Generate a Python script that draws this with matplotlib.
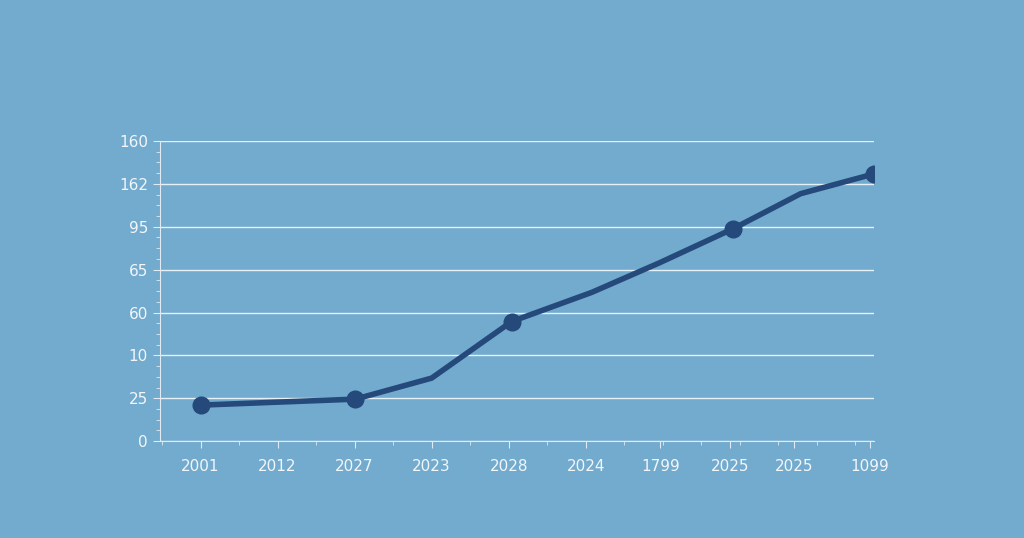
import numpy as np
import matplotlib.pyplot as plt

# positions along x (tick units) and y (tick units)
x_pos = [0, 2.01, 3.0, 4.04, 5.08, 5.96, 6.91, 7.79, 8.74]
y_val = [0.84, 0.98, 1.47, 2.79, 3.47, 4.16, 4.95, 5.77, 6.23]
marker_idx = [0, 1, 3, 6, 8]

x_ticks = [0, 1, 2, 3, 4, 5, 5.97, 6.88, 7.71, 8.69]
x_labels = ['2001', '2012', '2027', '2023', '2028', '2024', '1799', '2025', '2025', '1099']
y_ticks = [0, 1, 2, 3, 4, 5, 6, 7]
y_labels = ['0', '25', '10', '60', '65', '95', '162', '160']

bg = '#72abcd'
line_c = '#24497a'
txt_c = '#f2f6fa'

fig = plt.figure(figsize=(10.24, 5.38), dpi=100, facecolor=bg)
ax = fig.add_axes([0.156, 0.180, 0.698, 0.558], facecolor=bg)

ax.plot(x_pos, y_val, color=line_c, lw=4, solid_capstyle='round', zorder=3)
ax.plot([x_pos[i] for i in marker_idx], [y_val[i] for i in marker_idx],
        'o', color=line_c, ms=12, zorder=4)

ax.set_xlim(-0.53, 8.75)
ax.set_ylim(0, 7)
ax.set_xticks(x_ticks)
ax.set_xticklabels(x_labels)
ax.set_yticks(y_ticks)
ax.set_yticklabels(y_labels)
ax.set_xticks(np.arange(-0.5, 8.75, 0.5), minor=True)
ax.set_yticks(np.arange(0, 7, 0.25), minor=True)

ax.grid(axis='y', color='#e6f0f7', lw=1)
for s in ['top', 'right']:
    ax.spines[s].set_visible(False)
for s in ['left', 'bottom']:
    ax.spines[s].set_color('#dfeaf3')
ax.tick_params(colors='#dfeaf3', labelcolor=txt_c, labelsize=11, length=5)
ax.tick_params(which='minor', colors='#dfeaf3', length=3)
ax.tick_params(axis='x', pad=8)

plt.savefig('out.png', facecolor=bg)
